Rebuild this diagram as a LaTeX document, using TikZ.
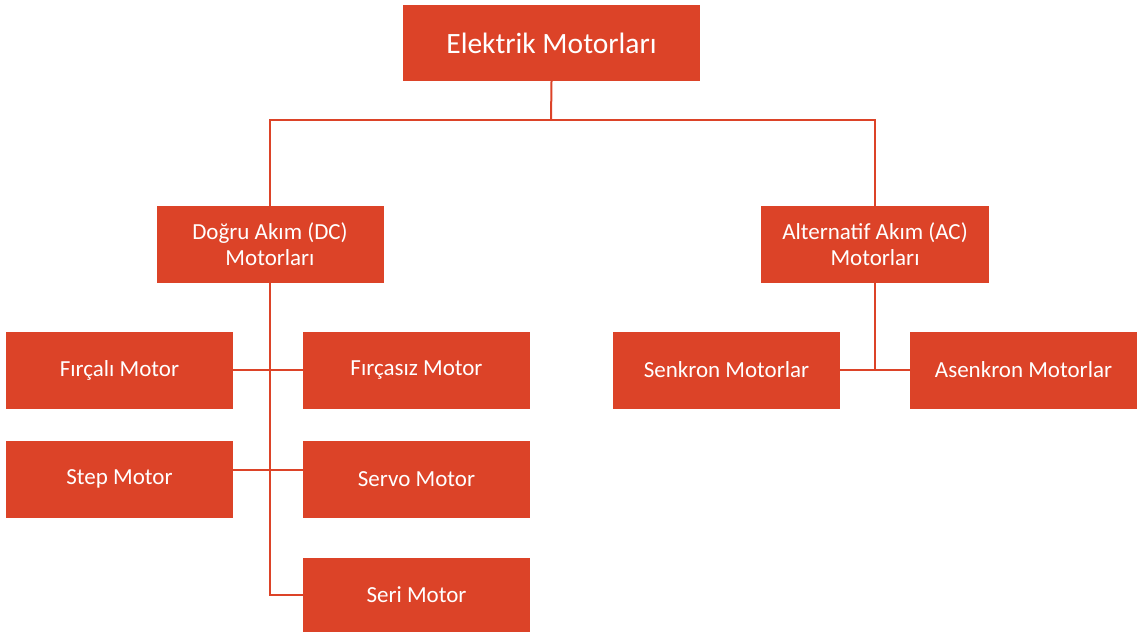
\documentclass[tikz,border=0pt]{standalone}
\usepackage{fontspec}
\setmainfont{Carlito}
\definecolor{boxred}{RGB}{220,67,40}
\begin{document}
\begin{tikzpicture}[x=1pt,y=-1pt,
  box/.style={fill=boxred,draw=none,text=white,inner sep=0pt,
    minimum width=227pt,minimum height=77pt,align=center,
    font=\fontsize{23}{26}\selectfont},
  link/.style={draw=boxred,line width=2pt}]
\useasboundingbox (0,0) rectangle (1139,632);
% top level
\node[box,minimum width=297pt,minimum height=76pt,font=\fontsize{29.5}{34}\selectfont]
  (root) at (551.5,43) {Elektrik Motorları};
% second level
\node[box] (dc) at (270,244.5) {Doğru Akım (DC)\\Motorları};
\node[box,minimum width=228pt] (ac) at (875,244.5) {Alternatif Akım (AC)\\Motorları};
% DC motor types
\node[box] (fircali)  at (119.5,370) {Fırçalı Motor};
\node[box] (fircasiz) at (416.5,370) {Fırçasız Motor};
\node[box] (step)     at (119.5,479) {Step Motor};
\node[box] (servo)    at (416.5,479) {Servo Motor};
\node[box,minimum height=74pt] (seri) at (416.5,595) {Seri Motor};
% AC motor types
\node[box] (senkron)  at (726.5,370) {Senkron Motorlar};
\node[box] (asenkron) at (1023.5,370) {Asenkron Motorlar};
% connectors
\coordinate (split) at (551,120);
\coordinate (dcend) at (270,597);
\coordinate (acend) at (875,370);
\coordinate (steprow) at (0,470);
\draw[link] (root.south) -- (split);
\draw[link] (split) -| (dc.north);
\draw[link] (split) -| (ac.north);
\draw[link] (dc.south) |- (seri.west);
\draw[link] (fircali.east) -- (fircasiz.west);
\draw[link] (step.east |- steprow) -- (servo.west |- steprow);
\draw[link] (ac.south) -- (acend);
\draw[link] (senkron.east) -- (asenkron.west);
\end{tikzpicture}
\end{document}
